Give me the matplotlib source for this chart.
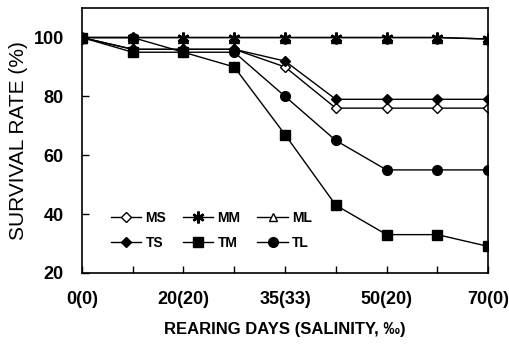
import numpy as np
import matplotlib.pyplot as plt

plt.rcParams['font.family'] = ['Liberation Sans', 'DejaVu Sans']

# sampling points (index) and tick labels: rearing days (salinity)
x = np.arange(9)
tick_pos = [0, 2, 4, 6, 8]
tick_labels = ['0(0)', '20(20)', '35(33)', '50(20)', '70(0)']

# survival rate (%)
ms = [100, 96, 96, 96, 90, 76, 76, 76, 76]
mm = [100, 100, 100, 100, 100, 100, 100, 100, 99.5]
ml = [100, 100, 100, 100, 100, 100, 100, 100, 99.5]
ts = [100, 96, 96, 96, 92, 79, 79, 79, 79]
tm = [100, 95, 95, 90, 67, 43, 33, 33, 29]
tl = [100, 100, 95, 95, 80, 65, 55, 55, 55]

fig = plt.figure(figsize=(5.09, 3.53), dpi=100)
ax = fig.add_axes([0.161, 0.227, 0.798, 0.750])

kw = dict(color='black', lw=1.0)
h_ms, = ax.plot(x, ms, marker='D', ms=5.5, mfc='white', mec='black', label='MS', **kw)
h_ts, = ax.plot(x, ts, marker='D', ms=5.5, label='TS', **kw)
h_tm, = ax.plot(x, tm, marker='s', ms=7, label='TM', **kw)
h_tl, = ax.plot(x, tl, marker='o', ms=7, label='TL', **kw)
h_ml, = ax.plot(x, ml, marker='^', ms=6, mfc='white', mec='black', label='ML', zorder=3, **kw)
h_mm, = ax.plot(x, mm, marker=(6, 2, 0), ms=8.5, mew=1.8, label='MM', zorder=4, **kw)
# fill the overlapping ML/MM markers as in the print
ax.plot(x, ml, ls='none', marker='^', ms=6.5, color='black', zorder=3.5)

ax.set_xlim(0, 8)
ax.set_ylim(20, 110)
ax.set_xticks(x)
ax.set_xticklabels(['' if i not in tick_pos else tick_labels[tick_pos.index(i)] for i in x])
ax.set_yticks([20, 40, 60, 80, 100])
ax.tick_params(direction='in', length=5, width=1)
ax.tick_params(axis='x', pad=13, labelsize=13)
ax.tick_params(axis='y', pad=13, labelsize=13)
for lab in ax.get_xticklabels() + ax.get_yticklabels():
    lab.set_fontweight('bold')
for s in ax.spines.values():
    s.set_linewidth(1.2)

ax.set_xlabel('REARING DAYS (SALINITY, ‰)', fontsize=12, fontweight='bold', labelpad=10)
ax.set_ylabel('SURVIVAL RATE (%)', fontsize=15, labelpad=4)

# legend filled row by row: MS MM ML / TS TM TL
ax.legend([h_ms, h_ts, h_mm, h_tm, h_ml, h_tl], ['MS', 'TS', 'MM', 'TM', 'ML', 'TL'],
          ncol=3, loc='lower left', bbox_to_anchor=(0.04, 0.04), frameon=False,
          prop={'weight': 'bold', 'size': 10},
          handlelength=2.2, handletextpad=0.3, columnspacing=1.2, labelspacing=0.8)

fig.savefig('out.png', dpi=100)
